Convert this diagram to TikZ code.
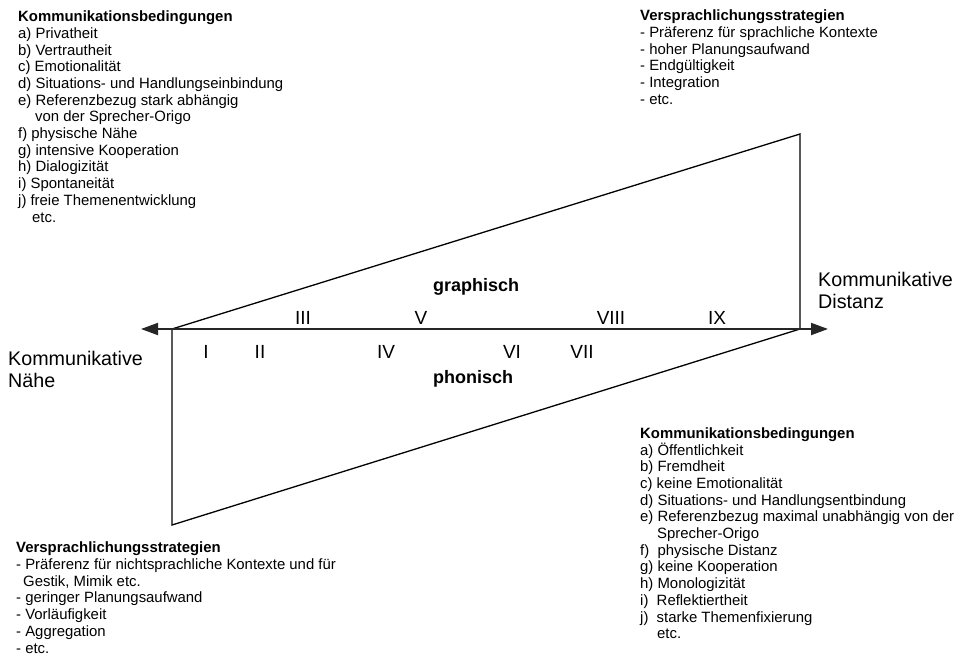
\documentclass[tikz,border=0pt]{standalone}
\usepackage{fontspec}
\setmainfont{Liberation Sans}
\usetikzlibrary{arrows.meta, positioning, calc}

\tikzset{
  infobox/.style={anchor=base west, inner sep=0pt, align=left,
    font=\fontsize{14.9}{16.7}\selectfont},
  polename/.style={anchor=base west, inner sep=0pt, align=left,
    font=\fontsize{19.7}{21.5}\selectfont},
  numeral/.style={anchor=base, inner sep=0pt, font=\fontsize{19}{21}\selectfont},
  medium/.style={anchor=base west, inner sep=0pt, font=\fontsize{18}{20}\selectfont\bfseries},
  wedge/.style={draw=black, line width=1.3pt, line join=miter},
  axis/.style={draw=black!85, line width=1.9pt, {Triangle[length=17pt,width=12pt]}-{Triangle[length=17pt,width=12pt]}}
}

\begin{document}
\begin{tikzpicture}[x=1pt, y=-1pt]
    \useasboundingbox (0,0) rectangle (964,654);

    % Corners of the two wedges
    \coordinate (lft) at (172,329);
    \coordinate (rgt) at (800,329);
    \coordinate (graTop) at (800,134);
    \coordinate (phoBot) at (172,525);
    \coordinate (naheEnd) at (141,329);
    \coordinate (distEnd) at (828,329);

    % Wedges
    \draw[wedge] (lft) -- (graTop) -- (rgt);
    \draw[wedge] (lft) -- (phoBot) -- (rgt);

    % Axis
    \draw[axis] (naheEnd) -- (distEnd);

    % Poles (anchored at the last line)
    \node[polename] (nahe) at (8,387) {Kommunikative\\Nähe};
    \node[polename] (distanz) at (818,308) {Kommunikative\\Distanz};

    \node[medium] (graphisch) at (433,291) {graphisch};
    \node[medium] (phonisch) at (433,383) {phonisch};

    % Numerals above the axis
    \node[numeral] (n3) at (303,324) {III};
    \node[numeral] (n5) at (421,324) {V};
    \node[numeral] (n8) at (611,324) {VIII};
    \node[numeral] (n9) at (717,324) {IX};
    % Numerals below the axis
    \node[numeral] (n1) at (206,358) {I};
    \node[numeral] (n2) at (260,358) {II};
    \node[numeral] (n4) at (386,358) {IV};
    \node[numeral] (n6) at (512,358) {VI};
    \node[numeral] (n7) at (582,358) {VII};

    % Text blocks (anchored at the last line)
    \node[infobox] (bedNahe) at (18,222) {\textbf{Kommunikationsbedingungen}\\
      a) Privatheit\\
      b) Vertrautheit\\
      c) Emotionalität\\
      d) Situations- und Handlungseinbindung\\
      e) Referenzbezug stark abhängig\\
      \hspace*{17pt}von der Sprecher-Origo\\
      f) physische Nähe\\
      g) intensive Kooperation\\
      h) Dialogizität\\
      i) Spontaneität\\
      j) freie Themenentwicklung\\
      \hspace*{14pt}etc.};

    \node[infobox] (strDistanz) at (640,104.2) {\textbf{Versprachlichungsstrategien}\\
      - Präferenz für sprachliche Kontexte\\
      - hoher Planungsaufwand\\
      - Endgültigkeit\\
      - Integration\\
      - etc.};

    \node[infobox] (bedDistanz) at (640,638.7) {\textbf{Kommunikationsbedingungen}\\
      a) Öffentlichkeit\\
      b) Fremdheit\\
      c) keine Emotionalität\\
      d) Situations- und Handlungsentbindung\\
      e) Referenzbezug maximal unabhängig von der\\
      \hspace*{17pt}Sprecher-Origo\\
      f)\ \ physische Distanz\\
      g) keine Kooperation\\
      h) Monologizität\\
      i)\ \ Reflektiertheit\\
      j)\ \ starke Themenfixierung\\
      \hspace*{17pt}etc.};

    \node[infobox] (strNahe) at (16,653) {\textbf{Versprachlichungsstrategien}\\
      - Präferenz für nichtsprachliche Kontexte und für\\
      \hspace*{7pt}Gestik, Mimik etc.\\
      - geringer Planungsaufwand\\
      - Vorläufigkeit\\
      - Aggregation\\
      - etc.};
\end{tikzpicture}
\end{document}
